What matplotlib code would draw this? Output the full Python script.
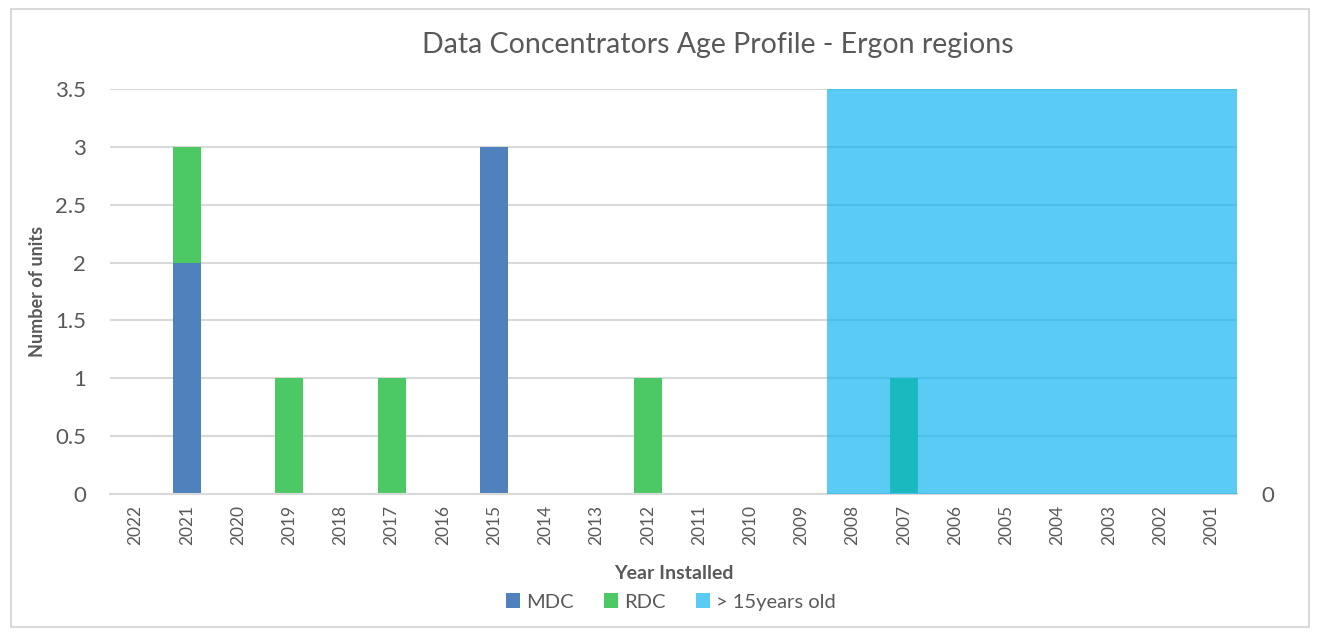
import numpy as np
import matplotlib.pyplot as plt
from matplotlib.patches import Rectangle

plt.rcParams['font.family'] = ['Lato', 'DejaVu Sans']

years = ['2022', '2021', '2020', '2019', '2018', '2017', '2016', '2015', '2014', '2013', '2012',
         '2011', '2010', '2009', '2008', '2007', '2006', '2005', '2004', '2003', '2002', '2001']
mdc = [0, 2, 0, 0, 0, 0, 0, 3, 0, 0, 0, 0, 0, 0, 0, 0, 0, 0, 0, 0, 0, 0]
rdc = [0, 1, 0, 1, 0, 1, 0, 0, 0, 0, 1, 0, 0, 0, 0, 1, 0, 0, 0, 0, 0, 0]
old = [0, 0, 0, 0, 0, 0, 0, 0, 0, 0, 0, 0, 0, 0, 1, 1, 1, 1, 1, 1, 1, 1]

c_mdc = '#4F81BD'
c_rdc = '#4CC965'
c_old = '#00B0F0'
txt = '#595959'

fig = plt.figure(figsize=(13.2, 6.37), dpi=100)
fig.patches.append(Rectangle((0.008, 0.016), 0.984, 0.97, transform=fig.transFigure,
                             fill=False, edgecolor='#D9D9D9', linewidth=1.5))

ax = fig.add_axes([0.0833, 0.2245, 0.8537, 0.6358])
x = np.arange(len(years))
ax.bar(x, mdc, width=0.55, color=c_mdc, label='MDC', zorder=2)
ax.bar(x, rdc, width=0.55, bottom=mdc, color=c_rdc, label='RDC', zorder=2)
ax.set_ylim(0, 3.5)
ax.set_xlim(-0.5, len(years) - 0.5)
ax.set_yticks(np.arange(0, 3.51, 0.5))
ax.set_yticklabels(['0', '0.5', '1', '1.5', '2', '2.5', '3', '3.5'])
ax.yaxis.grid(True, color='#D9D9D9', linewidth=1.5, zorder=0)
ax.set_axisbelow(True)
ax.set_xticks(x)
ax.set_xticklabels(years, rotation=90)
ax.tick_params(axis='x', length=0, labelsize=12.5, labelcolor=txt, pad=8)
ax.tick_params(axis='y', length=0, labelsize=16, labelcolor=txt, pad=17)
for s in ['top', 'right', 'left']:
    ax.spines[s].set_visible(False)
ax.spines['bottom'].set_color('#D9D9D9')
ax.spines['bottom'].set_linewidth(1.5)
ax.set_xlabel('Year Installed', fontsize=14, fontweight='bold', color=txt, labelpad=14)
ax.set_ylabel('Number of units', fontsize=13, fontweight='bold', color=txt, labelpad=7)

ax2 = ax.twinx()
ax2.bar(x, old, width=1.0, color=c_old, alpha=0.65, label='> 15years old', zorder=3)
ax2.set_ylim(0, 1)
ax2.set_yticks([0])
ax2.tick_params(axis='y', length=0, labelsize=16, labelcolor=txt, pad=18)
for s in ax2.spines.values():
    s.set_visible(False)

fig.text(0.544, 0.93, 'Data Concentrators Age Profile - Ergon regions', fontsize=20.5, color=txt,
         ha='center', va='center')

h1, l1 = ax.get_legend_handles_labels()
h2, l2 = ax2.get_legend_handles_labels()
fig.legend(h1 + h2, l1 + l2, loc='center', bbox_to_anchor=(0.508, 0.055), ncol=3, frameon=False,
           fontsize=14.5, labelcolor=txt, handlelength=0.7, handleheight=0.7, handletextpad=0.3,
           columnspacing=1.5)

fig.savefig('out.png', dpi=100)
